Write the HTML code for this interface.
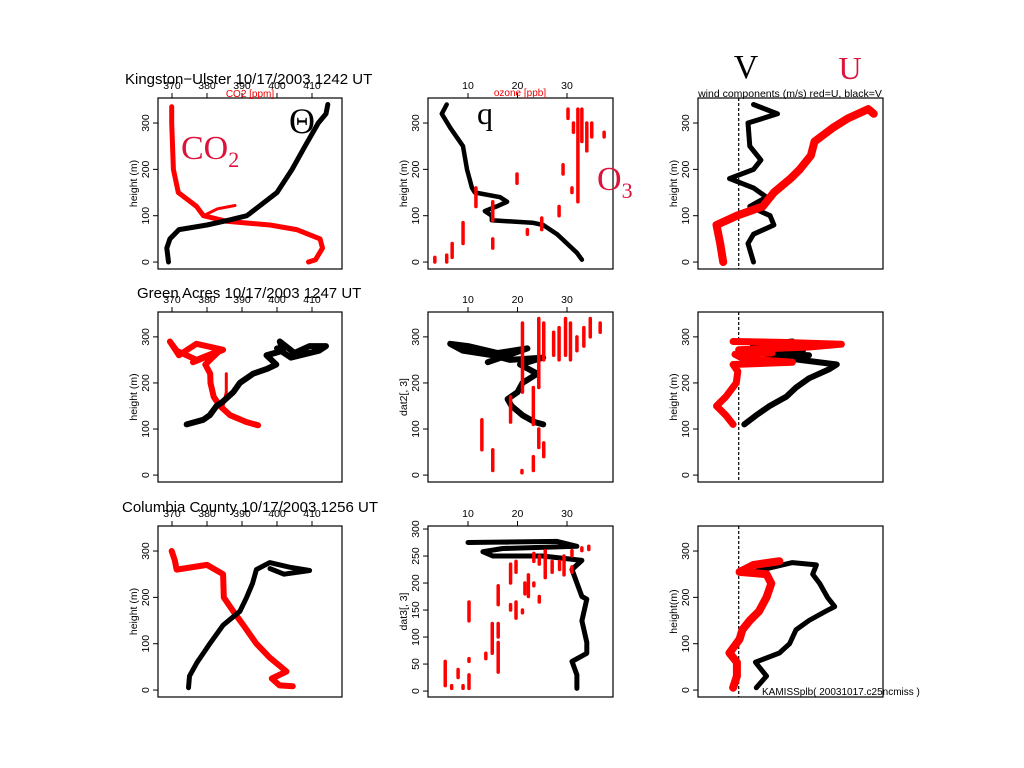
<!DOCTYPE html>
<html><head><meta charset="utf-8">
<style>
html,body{margin:0;padding:0;background:#fff;}
svg{display:block;font-family:"Liberation Sans",sans-serif;}
.serif{font-family:"Liberation Serif",serif;}
</style></head>
<body>
<svg id="fig" width="1024" height="768" viewBox="0 0 1024 768" xmlns="http://www.w3.org/2000/svg">
<rect width="1024" height="768" fill="#fff"/>
<g id="layer"></g>
<text x="125" y="84" font-size="15">Kingston−Ulster 10/17/2003 1242 UT</text>
<text x="137" y="298" font-size="15">Green Acres 10/17/2003 1247 UT</text>
<text x="122" y="512" font-size="15">Columbia County 10/17/2003 1256 UT</text>
<text x="250" y="97" font-size="10" fill="#e00" text-anchor="middle">CO2 [ppm]</text>
<text x="520" y="96" font-size="10" fill="#e00" text-anchor="middle">ozone [ppb]</text>
<text x="790" y="97" font-size="10.5" text-anchor="middle">wind components (m/s) red=U, black=V</text>
<text class="serif" x="746" y="78" font-size="34" text-anchor="middle">V</text>
<text class="serif" x="850" y="79" font-size="32" fill="#dc143c" text-anchor="middle">U</text>
<text class="serif" x="289" y="133" font-size="36">Θ</text>
<text class="serif" x="477" y="124" font-size="32">q</text>
<text class="serif" x="181" y="159" font-size="34" fill="#dc143c">CO<tspan font-size="22" dy="8">2</tspan></text>
<text class="serif" x="597" y="190" font-size="34" fill="#dc143c">O<tspan font-size="22" dy="8">3</tspan></text>
<text x="762" y="695" font-size="10">KAMISSplb( 20031017.c25ncmiss )</text>
</svg>
<script>
// ---- data (value, height) ----
const r1Theta=[[369,0],[368.5,30],[369.4,50],[372,70],[380,80],[386,90],[391.4,100],[400,150],[404.3,200],[408,250],[411.8,300],[414,320],[414.5,340]];
const r1CO2=[[409,0],[411,5],[413,30],[412.3,50],[405.6,70],[398,80],[385.6,88],[379,100],[377,120],[371.8,150],[370.4,200],[369.9,300],[369.9,335]];
const r1CO2b=[[379,100],[383,115],[388,122]];
const r1Q=[[33,5],[32,20],[30,40],[28,60],[25.2,80],[23,85],[14.8,90],[14.8,100],[13.4,110],[15.8,120],[17.9,130],[16.5,140],[11.4,150],[10.8,160],[9.8,200],[9,250],[6.4,290],[4.7,320],[5.7,340]];
const r1O3v=[3.3,5.7,6.8,9,11.6,15,15,19.9,22,24.9,28.4,29.2,30.2,31,31.3,32.2,33,34,35,37.5];
const r1O3lo=[0,0,10,40,120,90,30,170,60,70,100,190,310,150,280,130,260,240,270,270];
const r1O3hi=[10,15,40,85,160,130,50,190,70,95,120,210,330,160,300,330,330,300,300,280];
const r1V=[[30,0],[27,40],[30,60],[41,80],[39,100],[28,120],[37,140],[30,160],[17,180],[30,200],[34,220],[28,250],[27,300],[43,320],[30,340]];
const r1U=[[13.6,0],[12,40],[10,80],[21,100],[35,120],[41,150],[50,180],[55,200],[61,230],[63,260],[73,290],[81,310],[92,330],[95,320]];

const r2Theta=[[374.2,110],[378.9,120],[380.8,130],[382.7,150],[384.6,160],[387.5,180],[389.4,200],[393.2,220],[397,230],[399.8,240],[397,260],[401.7,270],[400.8,290],[405,265],[409.3,280],[414,280],[412,270],[404,255],[400,275]];
const r2CO2=[[394.6,108],[391.3,115],[386.6,130],[383.7,150],[381.9,170],[381,200],[380.9,220],[379.5,240],[383.6,270],[377,250],[371.3,270],[369.4,290],[372,260],[377,285],[384.6,272],[376,245]];
const r2CO2b=[[385.5,220],[385.5,180],[384.6,150]];
const r2Q=[[25.2,110],[23.5,115],[21,130],[18.8,150],[18,165],[20,180],[21,200],[24,220],[20.5,240],[25.2,255],[18.5,250],[15,260],[9,270],[6.4,285],[10,280],[16,265],[22,275],[14,245]];
const r2O3v=[12.8,15,18.6,20.9,21,23.2,23.2,24.3,24.3,25.3,25.3,27.3,28.4,29.7,30.7,32,33.4,34.7,36.7];
const r2O3lo=[55,10,115,5,180,10,110,60,190,40,250,260,250,260,250,270,280,300,310];
const r2O3hi=[120,55,170,10,330,40,190,100,340,70,330,310,320,340,330,300,320,340,330];
const r2V=[[25,110],[31.5,130],[38.7,150],[47.7,170],[53,190],[60,210],[71,230],[75,240],[55,250],[38,260],[29.7,280],[51,290],[56.7,270],[45,275],[35,265],[60,260]];
const r2U=[[19,110],[15,130],[10,150],[15,170],[20.7,200],[21.5,225],[19,240],[51,245],[25,252],[20,262],[40,265],[22,272],[60,278],[77.5,284],[45,288],[19,290]];

const r3Theta=[[374.7,5],[375,30],[377.2,60],[379,80],[380.8,100],[384.6,140],[389.4,170],[391.3,200],[393,230],[394.1,260],[397.9,275],[403.6,265],[409.3,258],[402,250],[398,262]];
const r3CO2=[[404.5,8],[400.7,10],[398.5,25],[402.7,40],[397.9,70],[394.1,100],[390.4,140],[387.5,170],[384.8,200],[384.6,250],[380,270],[371.3,260],[370.8,280],[369.9,300]];
const r3Q=[[10,275],[28,277],[32,268],[17,264],[13,258],[15,250],[25,250],[33,242],[31,225],[32,200],[33,175],[34,170],[33,130],[34,90],[34,70],[31,55],[32,30],[32,5]];
const r3O3v=[5.4,6.7,8,9,10.2,10.2,10.2,13.6,14.9,16.1,16.1,16.1,18.6,18.6,19.7,19.7,21,21.5,22.2,23.3,23.3,24.4,24.4,25.6,27,28.5,29.4,31,31,33,34.4];
const r3O3lo=[10,5,25,5,5,55,130,60,70,35,100,160,150,200,135,220,145,180,175,195,240,165,235,210,220,225,215,220,250,260,262];
const r3O3hi=[55,10,40,10,30,60,165,70,125,90,125,195,160,235,165,240,150,200,215,200,255,175,250,260,240,240,250,230,260,265,268];
const r3V=[[31.5,5],[37,30],[31,60],[44,80],[49.5,100],[53,130],[60,150],[69,170],[73.9,180],[70,200],[65.8,230],[62,250],[64,270],[51,275],[35,260],[29.7,255]];
const r3U=[[19,5],[21,30],[21,60],[17,80],[22.5,110],[24,130],[28,150],[33,170],[37,200],[39.6,230],[37,250],[22.5,255],[30,270],[44,278]];

// tick labels
const co2Ticks=[370,380,390,400,410];
const o3Ticks=[10,20,30];
const hTicks=[0,100,200,300];
const hTicks3=[0,50,100,150,200,250,300];

// ---- layout ----
const rowsY=[[98,269],[312,482],[526,697]];
const colsX=[[158,342],[428,613],[698,883]];
const co2Dom=[366,418.57], o3Dom=[1.92,39.29], windDom=[0,100];
const hDom=[-15,354], hDom3=[-11,305.6];

const NS="http://www.w3.org/2000/svg";
const layer=document.getElementById('layer');
function mk(tag,attrs,parent){const e=document.createElementNS(NS,tag);for(const k in attrs)e.setAttribute(k,attrs[k]);(parent||layer).appendChild(e);return e;}
function scale(d,r){return v=>r[0]+(v-d[0])/(d[1]-d[0])*(r[1]-r[0]);}

function panel(ri,ci,xd,yd,opts){
  const [x0,x1]=colsX[ci],[y0,y1]=rowsY[ri];
  const X=scale(xd,[x0,x1]),Y=scale(yd,[y1,y0]);
  const g=mk('g',{});
  
  
  const cid='clip'+ri+ci;
  const cp=mk('clipPath',{id:cid},g);mk('rect',{x:x0,y:y0,width:x1-x0,height:y1-y0},cp);
  const plot=mk('g',{'clip-path':'url(#'+cid+')'},g);
  if(opts.zero!==undefined){
    const zl=mk('line',{x1:X(opts.zero),x2:X(opts.zero),y1:y0,y2:y1,stroke:'#000','stroke-width':1.2,'stroke-dasharray':'3,2'},plot);
    
    
  }
  (opts.series||[]).forEach(s=>{
    const p=mk('polyline',{points:s.d.map(q=>X(q[0]).toFixed(1)+','+Y(q[1]).toFixed(1)).join(' '),fill:'none',stroke:s.c,'stroke-width':s.w,'stroke-linejoin':'round','stroke-linecap':'round'},plot);
    
    
  });
  if(opts.streaks){
    const st=opts.streaks;
    st.v.forEach((v,i)=>{
      const l=mk('line',{x1:X(v),x2:X(v),y1:Y(st.lo[i]),y2:Y(st.hi[i]),stroke:'#f00','stroke-width':3.5,'stroke-linecap':'round'},plot);
      
      
    });
  }
  const box=mk('rect',{x:x0,y:y0,width:x1-x0,height:y1-y0,fill:'none',stroke:'#000','stroke-width':1.2},g);
  
  
  opts.yticks.forEach(t=>{
    mk('line',{x1:x0-5,x2:x0,y1:Y(t),y2:Y(t),stroke:'#000','stroke-width':1},g);
    const tx=mk('text',{x:x0-9,y:Y(t),'font-size':10.5,'text-anchor':'middle',transform:'rotate(-90 '+(x0-9)+' '+Y(t)+')'},g);
    tx.textContent=t;
    
    
  });
  const yl=mk('text',{x:x0-21,y:(y0+y1)/2,'font-size':10.5,'text-anchor':'middle',transform:'rotate(-90 '+(x0-21)+' '+(y0+y1)/2+')'},g);
  yl.textContent=opts.ylab;
  
  
  if(opts.xticks){
    opts.xticks.forEach(t=>{
      mk('line',{x1:X(t),x2:X(t),y1:y0-5,y2:y0,stroke:'#000','stroke-width':1},g);
      const tx=mk('text',{x:X(t),y:y0-9,'font-size':10.5,'text-anchor':'middle'},g);
      tx.textContent=t;
      
      
    });
  }
}
const BK='#000',RD='#f00';
panel(0,0,co2Dom,hDom,{yticks:hTicks,ylab:'height (m)',xticks:co2Ticks,series:[{d:r1CO2,c:RD,w:5,n:'co2-profile'},{d:r1CO2b,c:RD,w:3,n:'co2-branch'},{d:r1Theta,c:BK,w:5,n:'theta-profile'}]});
panel(0,1,o3Dom,hDom,{yticks:hTicks,ylab:'height (m)',xticks:o3Ticks,streaks:{v:r1O3v,lo:r1O3lo,hi:r1O3hi},series:[{d:r1Q,c:BK,w:4.5,n:'q-profile'}]});
panel(0,2,windDom,hDom,{yticks:hTicks,ylab:'height (m)',zero:22,series:[{d:r1V,c:BK,w:5,n:'v-profile'},{d:r1U,c:RD,w:8,n:'u-profile'}]});
panel(1,0,co2Dom,hDom,{yticks:hTicks,ylab:'height (m)',xticks:co2Ticks,series:[{d:r2CO2,c:RD,w:6,n:'co2-profile'},{d:r2CO2b,c:RD,w:3,n:'co2-branch'},{d:r2Theta,c:BK,w:6,n:'theta-profile'}]});
panel(1,1,o3Dom,hDom,{yticks:hTicks,ylab:'dat2[, 3]',xticks:o3Ticks,streaks:{v:r2O3v,lo:r2O3lo,hi:r2O3hi},series:[{d:r2Q,c:BK,w:6,n:'q-profile'}]});
panel(1,2,windDom,hDom,{yticks:hTicks,ylab:'height (m)',zero:22,series:[{d:r2V,c:BK,w:6,n:'v-profile'},{d:r2U,c:RD,w:7,n:'u-profile'}]});
panel(2,0,co2Dom,hDom,{yticks:hTicks,ylab:'height (m)',xticks:co2Ticks,series:[{d:r3CO2,c:RD,w:6,n:'co2-profile'},{d:r3Theta,c:BK,w:5,n:'theta-profile'}]});
panel(2,1,o3Dom,hDom3,{yticks:hTicks3,ylab:'dat3[, 3]',xticks:o3Ticks,streaks:{v:r3O3v,lo:r3O3lo,hi:r3O3hi},series:[{d:r3Q,c:BK,w:5,n:'q-profile'}]});
panel(2,2,windDom,hDom,{yticks:hTicks,ylab:'height(m)',zero:22,series:[{d:r3V,c:BK,w:5,n:'v-profile'},{d:r3U,c:RD,w:8,n:'u-profile'}]});
</script>
</body></html>
